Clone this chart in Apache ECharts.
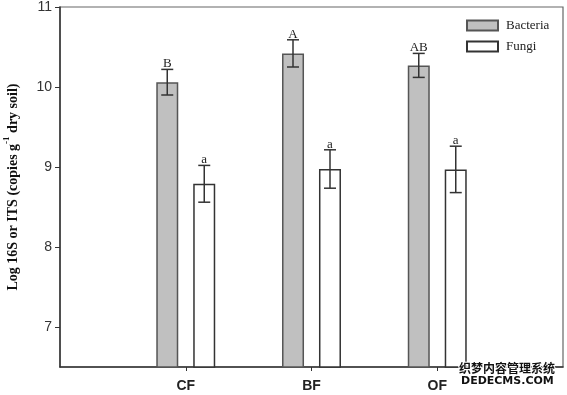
<!DOCTYPE html>
<html><head><meta charset="utf-8">
<script src="https://cdn.jsdelivr.net/npm/echarts@6/dist/echarts.min.js"></script>
<style>html,body{margin:0;padding:0;background:#fff}#c{width:567px;height:395px}</style>
</head><body><div id="c"></div>
<script>
const categories = ['', 'CF', 'BF', 'OF', ''];
const bacteria = [null, 10.06, 10.42, 10.27, null];
const bacteriaErr = [null, 0.16, 0.17, 0.15, null];
const bacteriaLetters = ['', 'B', 'A', 'AB', ''];
const fungi = [null, 8.79, 8.975, 8.97, null];
const fungiErr = [null, 0.23, 0.24, 0.29, null];
const fungiLetters = ['', 'a', 'a', 'a', ''];
const yTicks = [7, 8, 9, 10, 11];

const chart = echarts.init(document.getElementById('c'));

function errData(vals, errs) {
  const out = [];
  vals.forEach((v, i) => { if (v != null) out.push([i, v, errs[i]]); });
  return out;
}
function makeRender(offset, letters) {
  return function (params, api) {
    const i = api.value(0), m = api.value(1), e = api.value(2);
    const top = api.coord([i, m + e]);
    const bot = api.coord([i, m - e]);
    const cx = top[0] + offset;
    const half = 6;
    const st = { stroke: '#333', lineWidth: 1.5 };
    return {
      type: 'group',
      children: [
        { type: 'line', shape: { x1: cx, y1: top[1], x2: cx, y2: bot[1] }, style: st },
        { type: 'line', shape: { x1: cx - half, y1: top[1], x2: cx + half, y2: top[1] }, style: st },
        { type: 'line', shape: { x1: cx - half, y1: bot[1], x2: cx + half, y2: bot[1] }, style: st },
        { type: 'text', x: cx, y: top[1] + 1, style: { text: letters[i], fill: '#222', font: '13px "Liberation Serif"', textAlign: 'center', textVerticalAlign: 'bottom' } }
      ]
    };
  };
}

chart.setOption({
  animation: false,
  backgroundColor: '#fff',
  grid: { left: 60, right: 4, top: 7, bottom: 28, outerBoundsMode: 'none', containLabel: false, show: true, borderColor: '#666', borderWidth: 1.2, backgroundColor: 'transparent' },
  legend: {
    orient: 'vertical', left: 461, top: 14, itemWidth: 31, itemHeight: 10, itemGap: 8,
    icon: 'rect',
    textStyle: { fontFamily: 'Liberation Serif', fontSize: 13, color: '#222', padding: [0, 0, 0, 3] },
    data: ['Bacteria', 'Fungi']
  },
  xAxis: {
    type: 'category', data: categories, boundaryGap: false,
    axisLine: { lineStyle: { color: '#333', width: 1.5 } },
    axisTick: { length: 4, interval: (i) => i >= 1 && i <= 3, lineStyle: { color: '#333' } },
    axisLabel: { interval: (i) => i >= 1 && i <= 3, margin: 12, fontFamily: 'Liberation Sans', fontWeight: 'bold', fontSize: 14, color: '#222' },
    splitLine: { show: false }
  },
  yAxis: {
    type: 'value', min: 6.5, max: 11,
    axisLine: { show: true, lineStyle: { color: '#333', width: 1.5 } },
    axisTick: { show: true, length: 5, customValues: yTicks, lineStyle: { color: '#333' } },
    axisLabel: { customValues: yTicks, margin: 8, fontFamily: 'Liberation Sans', fontSize: 14, color: '#333' },
    splitLine: { show: false },
    name: '{a|Log 16S or ITS (copies g}{s|-1}{a| dry soil)}',
    nameLocation: 'middle', nameGap: 40,
    nameTextStyle: {
      rich: {
        a: { fontFamily: 'Liberation Serif', fontWeight: 'bold', fontSize: 14, color: '#111', lineHeight: 18, verticalAlign: 'bottom' },
        s: { fontFamily: 'Liberation Serif', fontWeight: 'bold', fontSize: 9, color: '#111', lineHeight: 18, verticalAlign: 'top' }
      }
    }
  },
  series: [
    { name: 'Bacteria', type: 'bar', data: bacteria, barWidth: 22, barGap: '68%',
      itemStyle: { color: '#c0c0c0', borderColor: '#555', borderWidth: 1.5 } },
    { name: 'Fungi', type: 'bar', data: fungi, barWidth: 22,
      itemStyle: { color: '#fff', borderColor: '#333', borderWidth: 1.5 } },
    { type: 'custom', data: errData(bacteria, bacteriaErr), renderItem: makeRender(-18.5, bacteriaLetters), z: 5 },
    { type: 'custom', data: errData(fungi, fungiErr), renderItem: makeRender(18.5, fungiLetters), z: 5 }
  ],
  graphic: [
    { type: 'text', left: 458, top: 361, z: 100, style: { text: '织梦内容管理系统', font: 'bold 12px "Noto Sans CJK SC"', fill: '#111', stroke: '#fff', lineWidth: 2 } },
    { type: 'text', left: 460, top: 375, z: 100, style: { text: 'DEDECMS.COM', font: 'bold 11px "DejaVu Sans"', fill: '#111', stroke: '#fff', lineWidth: 2 } }
  ]
});
</script></body></html>
